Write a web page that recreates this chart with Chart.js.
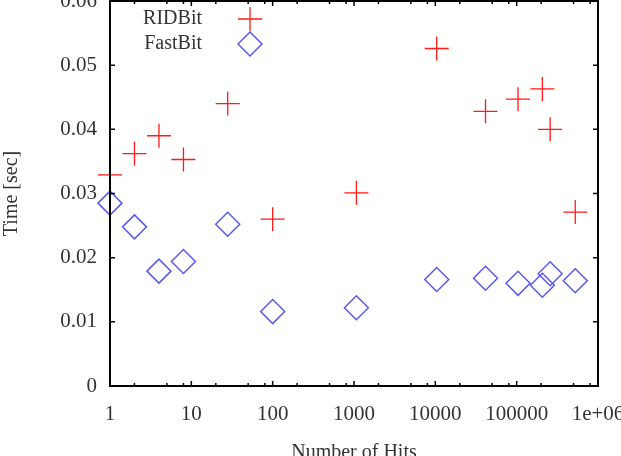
<!DOCTYPE html>
<html>
<head>
<meta charset="utf-8">
<script src="https://cdn.jsdelivr.net/npm/chart.js@4/dist/chart.umd.min.js"></script>
<style>
  html, body { margin: 0; padding: 0; background: #fff; }
  #wrap { width: 621px; height: 456px; }
</style>
</head>
<body>
<div id="wrap"><canvas id="chart"></canvas></div>
<script>
// number of hits (x, log scale)
const hits = [1, 2, 4, 8, 28, 100, 1070, 10400, 41400, 104000, 207000, 258000, 525000];
// time in seconds
const ridbitTimes = [0.0329, 0.0362, 0.0390, 0.0353, 0.0440, 0.0260, 0.0301, 0.0526, 0.0428, 0.0447, 0.0463, 0.0400, 0.0271];
const fastbitTimes = [0.0285, 0.0248, 0.0179, 0.0194, 0.0252, 0.0116, 0.0122, 0.0166, 0.0168, 0.0160, 0.0157, 0.0175, 0.0164];
const xTicks = [1, 10, 100, 1000, 10000, 100000, 1000000];
const xTickLabels = ['1', '10', '100', '1000', '10000', '100000', '1e+06'];
const yTicks = [0, 0.01, 0.02, 0.03, 0.04, 0.05, 0.06];
const yTickLabels = ['0', '0.01', '0.02', '0.03', '0.04', '0.05', '0.06'];
const seriesNames = ['RIDBit', 'FastBit'];

const RED = '#ff1a1a';
const BLUE = '#5a5aea';
const FAMILY = '"Liberation Serif", "DejaVu Serif", serif';
const FONT = { family: FAMILY, size: 20 };
const TICK_FONT = { family: FAMILY, size: 21 };

const toPoints = (ys) => hits.map((h, i) => ({ x: h, y: ys[i] }));

// frame with inward ticks, gnuplot style (drawn over the points)
const framePlugin = {
  id: 'frame',
  afterDatasetsDraw(chart) {
    const { ctx, chartArea: a, scales: { x, y } } = chart;
    ctx.save();
    ctx.strokeStyle = '#000';
    ctx.lineWidth = 1.5;
    ctx.beginPath();
    xTicks.forEach(v => {
      const px = x.getPixelForValue(v);
      ctx.moveTo(px, a.bottom); ctx.lineTo(px, a.bottom - 5);
      ctx.moveTo(px, a.top); ctx.lineTo(px, a.top + 5);
    });
    xTicks.slice(0, -1).forEach(d => {
      [2, 5, 8].forEach(m => {
        const px = x.getPixelForValue(d * m);
        ctx.moveTo(px, a.bottom); ctx.lineTo(px, a.bottom - 3);
        ctx.moveTo(px, a.top); ctx.lineTo(px, a.top + 3);
      });
    });
    yTicks.forEach(v => {
      const py = y.getPixelForValue(v);
      ctx.moveTo(a.left, py); ctx.lineTo(a.left + 5, py);
      ctx.moveTo(a.right, py); ctx.lineTo(a.right - 5, py);
    });
    ctx.stroke();
    ctx.lineWidth = 2;
    ctx.strokeRect(a.left, a.top, a.right - a.left, a.bottom - a.top);
    ctx.restore();
  }
};

// key in top left corner: text first, then the sample
const keyPlugin = {
  id: 'key',
  afterDraw(chart) {
    const { ctx, chartArea: a } = chart;
    ctx.save();
    ctx.font = FONT.size + 'px ' + FONT.family;
    ctx.fillStyle = '#333';
    ctx.textAlign = 'right';
    ctx.textBaseline = 'middle';
    const textX = a.left + 92;
    const markX = a.left + 140;
    const rows = [a.top + 18, a.top + 43];
    ctx.fillText(seriesNames[0], textX, rows[0]);
    ctx.fillText(seriesNames[1], textX, rows[1]);
    ctx.strokeStyle = RED;
    ctx.lineWidth = 1.3;
    ctx.beginPath();
    ctx.moveTo(markX - 12, rows[0]); ctx.lineTo(markX + 12, rows[0]);
    ctx.moveTo(markX, rows[0] - 12); ctx.lineTo(markX, rows[0] + 12);
    ctx.stroke();
    ctx.strokeStyle = BLUE;
    ctx.lineWidth = 1.5;
    ctx.beginPath();
    ctx.moveTo(markX - 12, rows[1]); ctx.lineTo(markX, rows[1] - 12);
    ctx.lineTo(markX + 12, rows[1]); ctx.lineTo(markX, rows[1] + 12);
    ctx.closePath();
    ctx.stroke();
    ctx.restore();
  }
};

new Chart(document.getElementById('chart'), {
  type: 'scatter',
  data: {
    datasets: [
      {
        label: seriesNames[0],
        data: toPoints(ridbitTimes),
        pointStyle: 'cross',
        pointRadius: 12,
        pointBorderWidth: 1.3,
        borderColor: RED,
        backgroundColor: 'transparent',
        clip: false
      },
      {
        label: seriesNames[1],
        data: toPoints(fastbitTimes),
        pointStyle: 'rectRot',
        pointRadius: 12,
        pointBorderWidth: 1.5,
        borderColor: BLUE,
        backgroundColor: 'transparent',
        clip: false
      }
    ]
  },
  options: {
    responsive: true,
    maintainAspectRatio: false,
    animation: false,
    layout: { autoPadding: false, padding: { top: 1, right: 23, left: 0, bottom: 0 } },
    plugins: {
      legend: { display: false },
      tooltip: { enabled: false }
    },
    scales: {
      x: {
        type: 'logarithmic',
        min: 1,
        max: 1000000,
        afterBuildTicks: (s) => { s.ticks = xTicks.map(v => ({ value: v })); },
        afterFit: (s) => { s.height = 70; s.paddingLeft = 0; s.paddingRight = 0; },
        ticks: {
          font: TICK_FONT,
          color: '#333',
          padding: 16,
          maxRotation: 0,
          autoSkip: false,
          callback: (v) => xTickLabels[xTicks.indexOf(v)] ?? ''
        },
        grid: { display: false, drawTicks: false },
        border: { display: false },
        title: {
          display: true,
          text: 'Number of Hits',
          font: FONT,
          color: '#333',
          padding: { top: 0, bottom: -9 }
        }
      },
      y: {
        min: 0,
        max: 0.06,
        afterBuildTicks: (s) => { s.ticks = yTicks.map(v => ({ value: v })); },
        afterFit: (s) => { s.width = 110; s.paddingTop = 0; s.paddingBottom = 0; },
        ticks: {
          font: TICK_FONT,
          color: '#333',
          padding: 13,
          callback: (v) => yTickLabels[yTicks.indexOf(v)] ?? ''
        },
        grid: { display: false, drawTicks: false },
        border: { display: false },
        title: {
          display: true,
          text: 'Time [sec]',
          font: FONT,
          color: '#333',
          padding: { top: 0, bottom: 0 }
        }
      }
    }
  },
  plugins: [framePlugin, keyPlugin]
});
</script>
</body>
</html>
